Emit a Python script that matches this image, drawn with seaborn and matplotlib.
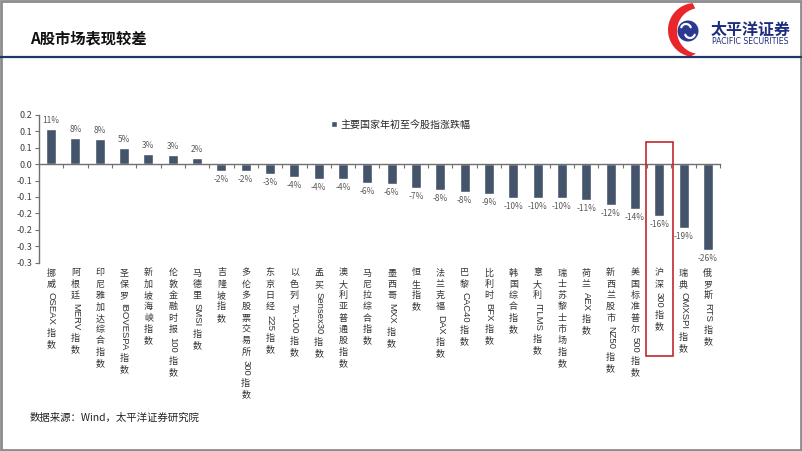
import matplotlib
matplotlib.use('Agg')
import matplotlib.pyplot as plt
import seaborn as sns
import pandas as pd
import numpy as np
from matplotlib import patches, transforms
from matplotlib.lines import Line2D

# ---------------- data ----------------
categories = [
    "挪威OSEAX指数", "阿根廷MERV指数", "印尼雅加达综合指数", "圣保罗IBOVESPA指数",
    "新加坡海峡指数", "伦敦金融时报100指数", "马德里SMSI指数", "吉隆坡指数",
    "多伦多股票交易所300指数", "东京日经225指数", "以色列TA-100指数", "孟买Sensex30指数",
    "澳大利亚普通股指数", "马尼拉综合指数", "墨西哥MXX指数", "恒生指数",
    "法兰克福DAX指数", "巴黎CAC40指数", "比利时BFX指数", "韩国综合指数",
    "意大利ITLMS指数", "瑞士苏黎士市场指数", "荷兰AEX指数", "新西兰股市NZ50指数",
    "美国标准普尔500指数", "沪深300指数", "瑞典OMXSPI指数", "俄罗斯RTS指数",
]
values = [0.107, 0.080, 0.076, 0.049, 0.031, 0.028, 0.019, -0.020,
          -0.020, -0.030, -0.040, -0.044, -0.044, -0.057, -0.061, -0.073,
          -0.078, -0.084, -0.092, -0.102, -0.103, -0.104, -0.108, -0.124,
          -0.136, -0.157, -0.194, -0.262]
value_labels = ["11%", "8%", "8%", "5%", "3%", "3%", "2%", "-2%",
                "-2%", "-3%", "-4%", "-4%", "-4%", "-6%", "-6%", "-7%",
                "-8%", "-8%", "-9%", "-10%", "-10%", "-10%", "-11%", "-12%",
                "-14%", "-16%", "-19%", "-26%"]
series_name = "主要国家年初至今股指涨跌幅"
ytick_values = [0.15, 0.10, 0.05, 0.0, -0.05, -0.10, -0.15, -0.20, -0.25, -0.30]
ytick_labels = ["0.2", "0.1", "0.1", "0.0", "-0.1", "-0.1", "-0.2", "-0.2", "-0.3", "-0.3"]
highlight = "沪深300指数"
title = "A股市场表现较差"
source = "数据来源：Wind，太平洋证券研究院"
brand_cn = "太平洋证券"
brand_en = "PACIFIC SECURITIES"

# ---------------- style ----------------
sns.set_theme(style="white")
plt.rcParams['font.family'] = ['Noto Sans CJK SC', 'DejaVu Sans']
plt.rcParams['axes.unicode_minus'] = False

BAR = "#44546A"
AXC = "#6f6f6f"
TXT = "#404040"

W, H = 802, 451
fig = plt.figure(figsize=(W / 100, H / 100), dpi=100)
fig.patch.set_facecolor("white")


def fx(px):
    return px / W


def fy(py):
    return 1 - py / H


ax = fig.add_axes([fx(39), fy(262.5), fx(720) - fx(39), fy(115) - fy(262.5)])
df = pd.DataFrame({"cat": categories, "val": values, "series": series_name})
sns.barplot(data=df, x="cat", y="val", hue="series", palette=[BAR],
            width=0.41, dodge=False, saturation=1, ax=ax)

ax.set_xlim(-0.5, len(categories) - 0.5)
ax.set_ylim(-0.30, 0.15)
ax.set_xlabel("")
ax.set_ylabel("")
for s in ["top", "right"]:
    ax.spines[s].set_visible(False)
ax.spines["bottom"].set_position(("data", 0))
ax.spines["bottom"].set_color(AXC)
ax.spines["left"].set_color(AXC)
ax.spines["bottom"].set_linewidth(1.0)
ax.spines["left"].set_linewidth(1.0)

ax.set_xticks(range(len(categories)))
ax.set_xticklabels([""] * len(categories))
ax.set_xticks(np.arange(-0.5, len(categories), 1.0), minor=True)
ax.tick_params(axis="x", which="major", length=0, bottom=True)
ax.tick_params(axis="x", which="minor", length=3, direction="out",
               color=AXC, width=0.8, bottom=True)
ax.set_yticks(ytick_values)
ax.set_yticklabels(ytick_labels)
ax.tick_params(axis="y", which="major", left=True, length=3, direction="out",
               color=AXC, width=0.8, labelsize=6.5, labelcolor=TXT, pad=2)

# data labels
for i, (v, lab) in enumerate(zip(values, value_labels)):
    if v >= 0:
        ax.annotate(lab, xy=(i, v), xytext=(0, 3), textcoords="offset points",
                    ha="center", va="bottom", fontsize=6, color="#595959")
    else:
        ax.annotate(lab, xy=(i, v), xytext=(0, -3), textcoords="offset points",
                    ha="center", va="top", fontsize=6, color="#595959")

# legend
handles, labels = ax.get_legend_handles_labels()
ax.legend(handles, labels, loc="center left", bbox_to_anchor=(fx(322), fy(125)),
          bbox_transform=fig.transFigure, frameon=False, fontsize=7.2,
          handlelength=0.55, handleheight=0.55, handletextpad=0.4,
          labelcolor="#262626")

# vertical category labels
renderer = fig.canvas.get_renderer()
trans = transforms.blended_transform_factory(ax.transData, ax.transAxes)
px2pt = 72 / 100


def is_cjk(ch):
    return ord(ch) > 0x2E80


for i, name in enumerate(categories):
    runs, buf = [], ""
    for ch in name:
        if is_cjk(ch):
            if buf:
                runs.append(buf)
                buf = ""
            runs.append(ch)
        else:
            buf += ch
    if buf:
        runs.append(buf)
    cur = 6.0
    for r in runs:
        if is_cjk(r[0]):
            ax.annotate(r, xy=(i, 0), xycoords=trans, xytext=(0, -cur * px2pt),
                        textcoords="offset points", ha="center", va="top",
                        fontsize=6.5, color="#333333", annotation_clip=False)
            cur += 11.3
        else:
            t = ax.annotate(r, xy=(i, 0), xycoords=trans, xytext=(0, -(cur + 1) * px2pt),
                            textcoords="offset points", ha="center", va="top",
                            rotation=-90, fontsize=6.8, color="#333333",
                            family=["Liberation Sans", "DejaVu Sans"],
                            annotation_clip=False)
            bb = t.get_window_extent(renderer)
            cur += bb.height + 4.5

# highlight box around 沪深300
hi = categories.index(highlight)
btrans = transforms.blended_transform_factory(ax.transData, fig.transFigure)
rect = patches.Rectangle((hi - 0.55, fy(356)), 1.1, fy(141.7) - fy(356),
                         transform=btrans, fill=False, edgecolor="#C0272D",
                         linewidth=1.2, clip_on=False, zorder=5)
ax.add_patch(rect)

# ---------------- page decorations ----------------
ov = fig.add_axes([0, 0, 1, 1])
ov.set_xlim(0, W)
ov.set_ylim(H, 0)
ov.axis("off")

ov.add_line(Line2D([0, W], [57, 57], color="#1F3864", lw=1.6))
ov.add_patch(patches.Rectangle((0.5, 0.5), W - 1.5, H - 1.5, fill=False,
                               edgecolor="#8c8c8c", lw=2))

# logo: red crescent
phi_o = np.radians(np.linspace(265, 100, 60))
phi_i = np.radians(np.linspace(100, 258, 60))
xo = 695 + 27 * np.cos(phi_o)
yo = 30 + 27 * np.sin(phi_o)
xi = 700 + 23 * np.cos(phi_i)
yi = 31 + 23 * np.sin(phi_i)
ov.add_patch(patches.Polygon(np.column_stack([np.r_[xo, xi], np.r_[yo, yi]]),
                             closed=True, facecolor="#E8262B", edgecolor="none"))
ov.add_patch(patches.Circle((688, 31), 10.5, facecolor="#2B3990", edgecolor="none"))
ang = np.radians(np.linspace(200, 340, 30))
ov.plot(686 + 5 * np.cos(ang), 29 - 5 * np.sin(ang) * -1, color="white", lw=1.6)
ang2 = np.radians(np.linspace(20, 160, 30))
ov.plot(690 + 5 * np.cos(ang2), 33 + 5 * np.sin(ang2), color="white", lw=1.6)

ov.text(711, 30, brand_cn, fontsize=11.5, fontweight="bold", color="#1E2D7D",
        ha="left", va="center")
ov.text(712, 42, brand_en, fontsize=5.6, color="#1E2D7D", ha="left", va="center",
        family=["DejaVu Sans"])

ov.text(30, 38, title, fontsize=11, fontweight="bold", color="#111111",
        ha="left", va="center")
ov.text(30, 418, source, fontsize=7.5, color="#222222", ha="left", va="center")

fig.savefig("out.png", dpi=100)
